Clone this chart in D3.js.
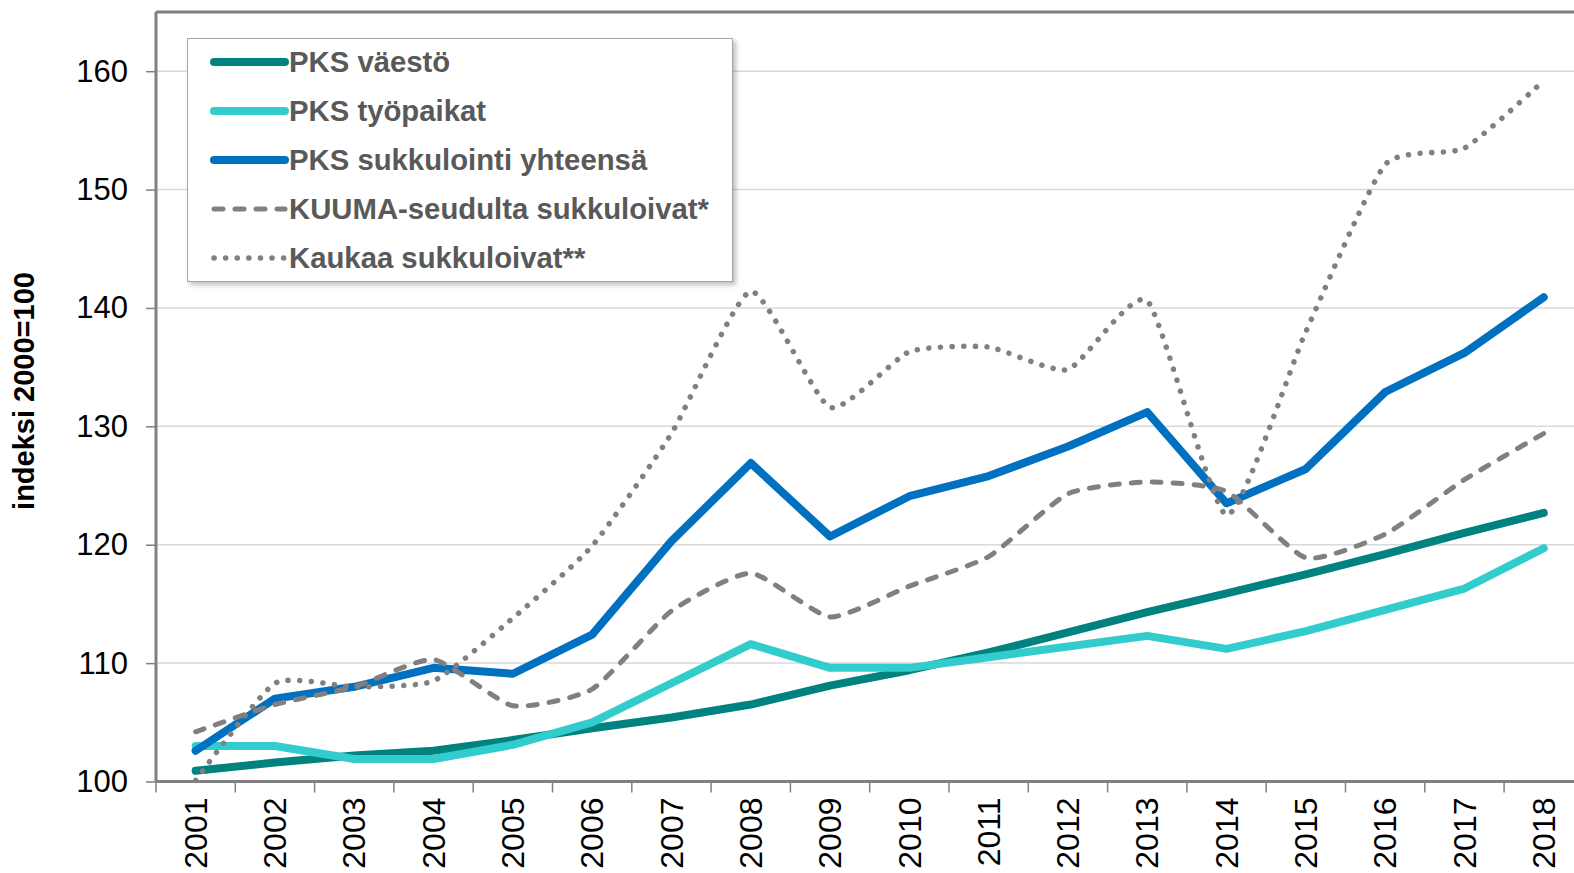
<!DOCTYPE html>
<html>
<head>
<meta charset="utf-8">
<script src="https://cdn.jsdelivr.net/npm/d3@7"></script>
<style>
  body { margin: 0; background: #fff; }
  svg { display: block; font-family: "Liberation Sans", Arial, sans-serif; }
</style>
</head>
<body>
<svg id="chart" width="1574" height="873"></svg>
<script>
var years = ["2001","2002","2003","2004","2005","2006","2007","2008","2009",
             "2010","2011","2012","2013","2014","2015","2016","2017","2018"];

var vaesto     = [100.9,101.6,102.2,102.6,103.5,104.5,105.4,106.5,108.1,109.4,110.9,112.6,114.3,115.9,117.5,119.2,121.0,122.7];
var tyopaikat  = [103.0,103.0,101.9,101.9,103.1,105.0,108.3,111.6,109.6,109.6,110.5,111.4,112.3,111.2,112.7,114.5,116.3,119.7];
var sukkulointi= [102.6,107.0,108.0,109.6,109.1,112.4,120.3,126.9,120.7,124.1,125.8,128.3,131.2,123.5,126.4,132.9,136.2,140.9];
var kuuma      = [104.2,106.5,108.0,110.3,106.4,107.8,114.4,117.6,113.9,116.5,119.0,124.3,125.3,124.5,118.9,120.9,125.5,129.4];
var kaukaa     = [100.1,108.3,108.0,108.5,113.8,119.9,129.4,141.4,131.6,136.3,136.7,134.8,140.6,122.5,138.0,152.1,153.5,159.2];

var yTicks = [100,110,120,130,140,150,160];
var names = ["PKS väestö","PKS työpaikat","PKS sukkulointi yhteensä","KUUMA-seudulta sukkuloivat*","Kaukaa sukkuloivat**"];

var smooth = d3.curveCardinal.tension(0.45);
var series = [
  {name: names[0], values: vaesto,      color: "#00827f", width: 8,   dash: null,       curve: d3.curveLinear},
  {name: names[1], values: tyopaikat,   color: "#33cccc", width: 8,   dash: null,       curve: d3.curveLinear},
  {name: names[2], values: sukkulointi, color: "#0070c0", width: 8,   dash: null,       curve: d3.curveLinear},
  {name: names[3], values: kuuma,       color: "#808080", width: 5,   dash: "9 12",     curve: smooth},
  {name: names[4], values: kaukaa,      color: "#808080", width: 5.5, dash: "0.1 11.5", curve: smooth}
];

var svg = d3.select("#chart");
var plotLeft = 156, plotTop = 12, plotBottom = 781.5, plotRight = 156 + 18 * 79.3;
var font = "Liberation Sans, Arial, sans-serif";

var x = d3.scaleBand().domain(years).range([plotLeft, plotRight]);
var y = d3.scaleLinear().domain([100, 165]).range([plotBottom, plotTop]);

var defs = svg.append("defs");
defs.append("clipPath").attr("id", "clip")
  .append("rect").attr("x", plotLeft).attr("y", 0).attr("width", plotRight - plotLeft).attr("height", plotBottom + 10);

// gridlines
svg.append("g").selectAll("line").data(yTicks.slice(1)).join("line")
  .attr("x1", plotLeft).attr("x2", plotRight)
  .attr("y1", function(d) { return y(d); }).attr("y2", function(d) { return y(d); })
  .attr("stroke", "#d9d9d9").attr("stroke-width", 1.5);

// top border
svg.append("line").attr("x1", plotLeft).attr("x2", 1574).attr("y1", plotTop).attr("y2", plotTop)
  .attr("stroke", "#808080").attr("stroke-width", 3);

// y axis
var yAxis = svg.append("g").attr("transform", "translate(" + plotLeft + ",0)")
  .call(d3.axisLeft(y).tickValues(yTicks).tickSize(10).tickPadding(18).tickFormat(d3.format("d")));
yAxis.select(".domain").attr("stroke", "#808080").attr("stroke-width", 3).attr("d", "M0," + plotTop + "V" + plotBottom);
yAxis.selectAll(".tick line").attr("stroke", "#808080").attr("stroke-width", 1.5);
yAxis.selectAll(".tick text").attr("font-size", 31).attr("fill", "#000").attr("font-family", font);

// x axis
var xAxis = svg.append("g").attr("transform", "translate(0," + plotBottom + ")")
  .call(d3.axisBottom(x).tickSize(0).tickPadding(0));
xAxis.select(".domain").remove();
xAxis.append("line").attr("x1", plotLeft).attr("x2", 1574).attr("stroke", "#808080").attr("stroke-width", 3);
xAxis.selectAll(".bound").data(years).join("line").attr("class", "bound")
  .attr("x1", function(d) { return x(d); }).attr("x2", function(d) { return x(d); })
  .attr("y1", 0).attr("y2", 11).attr("stroke", "#808080").attr("stroke-width", 1.5);
xAxis.selectAll(".tick text")
  .attr("transform", "rotate(-90)")
  .attr("x", -16).attr("y", 0).attr("dy", "0.35em")
  .attr("text-anchor", "end")
  .attr("font-size", 32).attr("fill", "#000").attr("font-family", font);

// y title
svg.append("text")
  .attr("transform", "translate(34,391) rotate(-90)")
  .attr("text-anchor", "middle")
  .attr("font-size", 29).attr("font-weight", "bold").attr("fill", "#000")
  .text("indeksi 2000=100");

// lines
var lines = svg.append("g").attr("clip-path", "url(#clip)");
series.forEach(function(s) {
  var line = d3.line()
    .x(function(d, i) { return x(years[i]) + x.bandwidth() / 2; })
    .y(function(d) { return y(d); })
    .curve(s.curve);
  lines.append("path")
    .datum(s.values)
    .attr("d", line)
    .attr("fill", "none")
    .attr("stroke", s.color)
    .attr("stroke-width", s.width)
    .attr("stroke-linejoin", "round")
    .attr("stroke-linecap", "round")
    .attr("stroke-dasharray", s.dash);
});

// legend
var lg = svg.append("g");
var filt = defs.append("filter").attr("id", "shadow").attr("x", "-5%").attr("y", "-5%").attr("width", "115%").attr("height", "120%");
filt.append("feDropShadow").attr("dx", 3).attr("dy", 3).attr("stdDeviation", 2.5).attr("flood-color", "#000").attr("flood-opacity", 0.25);
lg.append("rect").attr("x", 187.5).attr("y", 38.5).attr("width", 545).attr("height", 243)
  .attr("fill", "#fff").attr("stroke", "#a6a6a6").attr("stroke-width", 1).attr("filter", "url(#shadow)");
var items = lg.selectAll(".item").data(series).join("g").attr("class", "item")
  .attr("transform", function(d, i) { return "translate(0," + (62 + i * 49) + ")"; });
items.append("line").attr("x1", 214).attr("x2", 285).attr("y1", 0).attr("y2", 0)
  .attr("stroke", function(d) { return d.color; })
  .attr("stroke-width", function(d) { return d.width; })
  .attr("stroke-linecap", "round")
  .attr("stroke-dasharray", function(d) { return d.dash; });
items.append("text").attr("x", 289).attr("y", 0).attr("dy", "0.35em")
  .attr("font-size", 29.3).attr("font-weight", "bold").attr("fill", "#595959")
  .text(function(d) { return d.name; });
</script>
</body>
</html>
